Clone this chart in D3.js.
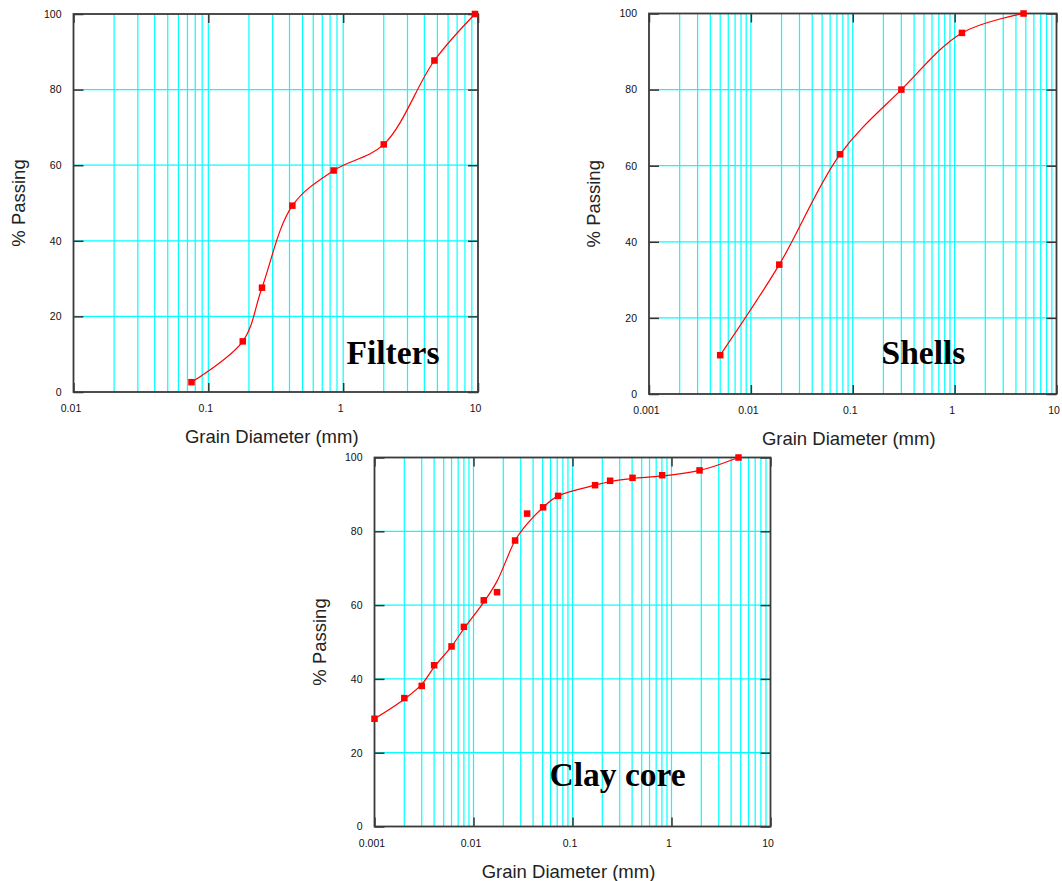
<!DOCTYPE html>
<html>
<head>
<meta charset="utf-8">
<script src="https://cdn.jsdelivr.net/npm/d3@7"></script>
<style>
  html, body { margin: 0; padding: 0; background: #fff; }
  svg { display: block; }
</style>
</head>
<body>
<svg id="chart" width="1062" height="881"></svg>
<script>
// Grain-size distribution curves: filters, shells and clay core.
const yTicks = [0, 20, 40, 60, 80, 100];

const filtersDiameter = [0.075, 0.18, 0.25, 0.42, 0.85, 2.0, 4.75, 9.5];
const filtersPassing  = [2.6, 13.4, 27.6, 49.3, 58.6, 65.5, 87.7, 100];
const filtersXTicks   = [0.01, 0.1, 1, 10];

const shellsDiameter = [0.005, 0.019, 0.075, 0.3, 1.18, 4.75];
const shellsPassing  = [10.2, 34.0, 63.0, 80.0, 94.9, 100];
const shellsXTicks   = [0.001, 0.01, 0.1, 1, 10];

const coreDiameter = [0.001, 0.002, 0.003, 0.004, 0.006, 0.008, 0.0127, 0.0173, 0.0263, 0.0348,
                      0.0505, 0.0716, 0.169, 0.24, 0.404, 0.804, 1.92, 4.75];
const corePassing  = [29.2, 34.8, 38.1, 43.7, 48.8, 54.1, 61.3, 63.5, 77.5, 84.8,
                      86.5, 89.6, 92.5, 93.7, 94.5, 95.2, 96.5, 100];
// smoothed gradation line through the clay core measurements
const corePassingFit = [29.2, 34.5, 38.5, 43.2, 48.8, 53.6, 60.8, 66.5, 77.5, 82.0,
                        86.5, 89.6, 92.5, 93.5, 94.3, 95.0, 96.5, 100];
const coreXTicks   = [0.001, 0.01, 0.1, 1, 10];

const svg = d3.select("#chart");
svg.append("rect").attr("width", 1062).attr("height", 881).attr("fill", "#fff");

const SANS = "'Liberation Sans', Arial, Helvetica, sans-serif";
const SERIF = "'Liberation Serif', 'Times New Roman', Times, serif";

function drawChart(cfg) {
  const x = d3.scaleLog().domain([cfg.xTicks[0], cfg.xTicks[cfg.xTicks.length - 1]])
    .range([cfg.left, cfg.right]);
  const y = d3.scaleLinear().domain([0, 100]).range([cfg.bottom, cfg.top]);
  const g = svg.append("g");

  // vertical grid on every log subdivision
  const vGrid = x.ticks().filter(v => v > x.domain()[0] * 1.0001 && v < x.domain()[1] * 0.9999);
  g.append("g").selectAll("line").data(vGrid).join("line")
    .attr("x1", d => x(d)).attr("x2", d => x(d))
    .attr("y1", cfg.top).attr("y2", cfg.bottom)
    .attr("stroke", "#00ffff").attr("stroke-width", 1.2);

  // horizontal grid
  g.append("g").selectAll("line").data(yTicks.slice(1, -1)).join("line")
    .attr("x1", cfg.left).attr("x2", cfg.right)
    .attr("y1", d => y(d)).attr("y2", d => y(d))
    .attr("stroke", "#00ffff").attr("stroke-width", 1.2);

  const fmt = d3.format("~g");
  const styleAxis = sel => {
    sel.select(".domain").remove();
    sel.selectAll(".tick line").attr("stroke", "#333").attr("stroke-width", 1.5);
    sel.selectAll("text").attr("font-family", SANS).attr("font-size", 10.5).attr("fill", "#111");
  };

  // bottom axis with labels, inward ticks
  g.append("g").attr("transform", `translate(0,${cfg.bottom})`)
    .call(d3.axisBottom(x).tickValues(cfg.xTicks).tickFormat(fmt)
      .tickSizeInner(-9).tickSizeOuter(0).tickPadding(13))
    .call(styleAxis)
    .call(s => s.selectAll("text").attr("dx", -3));
  // top axis, ticks only
  g.append("g").attr("transform", `translate(0,${cfg.top})`)
    .call(d3.axisTop(x).tickValues(cfg.xTicks).tickFormat("")
      .tickSizeInner(-9).tickSizeOuter(0))
    .call(styleAxis);
  // left axis with labels
  g.append("g").attr("transform", `translate(${cfg.left},0)`)
    .call(d3.axisLeft(y).tickValues(yTicks).tickFormat(fmt)
      .tickSizeInner(-10).tickSizeOuter(0).tickPadding(12))
    .call(styleAxis);
  // right axis, ticks only
  g.append("g").attr("transform", `translate(${cfg.right},0)`)
    .call(d3.axisRight(y).tickValues(yTicks).tickFormat("")
      .tickSizeInner(-10).tickSizeOuter(0))
    .call(styleAxis);

  // plot frame
  g.append("rect")
    .attr("x", cfg.left).attr("y", cfg.top)
    .attr("width", cfg.right - cfg.left).attr("height", cfg.bottom - cfg.top)
    .attr("fill", "none").attr("stroke", "#3a3a3a").attr("stroke-width", 1.8);

  // gradation curve
  const linePts = cfg.diameter.map((d, i) => [d, cfg.fit[i]]);
  g.append("path").datum(linePts)
    .attr("d", d3.line().x(d => x(d[0])).y(d => y(d[1])).curve(d3.curveCatmullRom.alpha(0.5)))
    .attr("fill", "none").attr("stroke", "#ff0000").attr("stroke-width", 1.2);

  // measured points
  const s = 6.5;
  g.append("g").selectAll("rect").data(cfg.diameter.map((d, i) => [d, cfg.passing[i]])).join("rect")
    .attr("x", d => x(d[0]) - s / 2).attr("y", d => y(d[1]) - s / 2)
    .attr("width", s).attr("height", s).attr("fill", "#ff0000");

  // axis titles
  g.append("text")
    .attr("x", (cfg.left + cfg.right) / 2 - 4).attr("y", cfg.bottom + 51)
    .attr("text-anchor", "middle").attr("font-family", SANS).attr("font-size", 18.5)
    .attr("fill", "#222").text("Grain Diameter (mm)");
  g.append("text")
    .attr("transform", `translate(${cfg.left - 49},${(cfg.top + cfg.bottom) / 2}) rotate(-90)`)
    .attr("text-anchor", "middle").attr("font-family", SANS).attr("font-size", 18.5)
    .attr("fill", "#222").text("% Passing");

  // material name
  g.append("text")
    .attr("x", cfg.nameX).attr("y", cfg.nameY)
    .attr("font-family", SERIF).attr("font-weight", "bold").attr("font-size", 33.5)
    .attr("fill", "#000").text(cfg.name);
}

drawChart({
  left: 73.5, right: 478, top: 14, bottom: 392,
  xTicks: filtersXTicks, diameter: filtersDiameter, passing: filtersPassing, fit: filtersPassing,
  name: "Filters", nameX: 346.5, nameY: 363.5
});
drawChart({
  left: 649, right: 1056.5, top: 13.5, bottom: 394,
  xTicks: shellsXTicks, diameter: shellsDiameter, passing: shellsPassing, fit: shellsPassing,
  name: "Shells", nameX: 881.5, nameY: 363.5
});
drawChart({
  left: 374.5, right: 770.5, top: 457.5, bottom: 826.5,
  xTicks: coreXTicks, diameter: coreDiameter, passing: corePassing, fit: corePassingFit,
  name: "Clay core", nameX: 549.5, nameY: 786
});
</script>
</body>
</html>
